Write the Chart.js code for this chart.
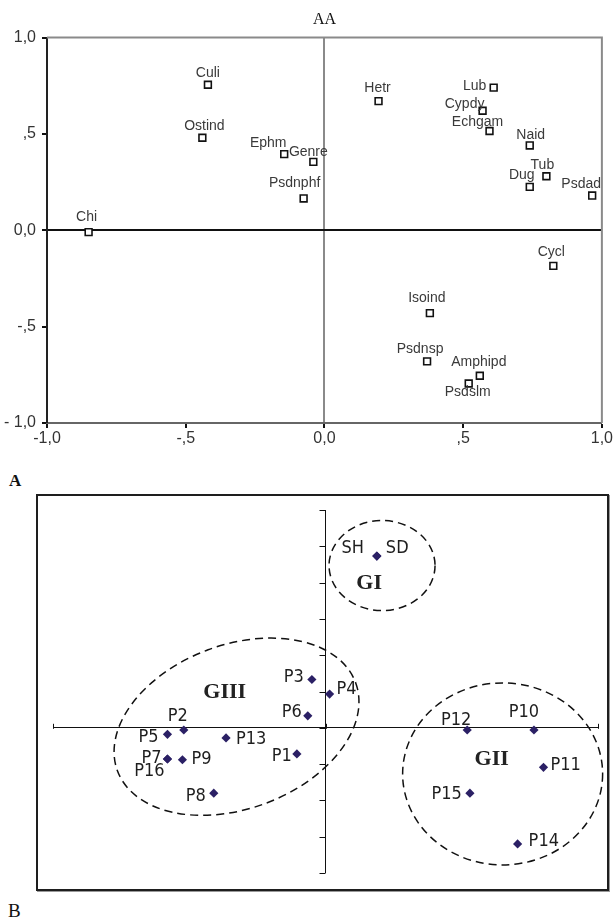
<!DOCTYPE html>
<html><head><meta charset="utf-8">
<script src="https://cdn.jsdelivr.net/npm/chart.js@4.4.1/dist/chart.umd.min.js"></script>
<style>
html,body{margin:0;padding:0;background:#fff;}
body{width:614px;height:924px;position:relative;overflow:hidden;}
#cA{position:absolute;left:0;top:0;}
#boxB{position:absolute;left:36px;top:494px;width:569px;height:393px;border:2px solid #1e1e1e;box-shadow:1px 1px 0 #999;}
#cB{position:absolute;left:0;top:0;}
.panel{position:absolute;font-family:'Liberation Serif','DejaVu Serif',serif;color:#111;line-height:1;}
</style></head><body>
<canvas id="cA" width="614" height="470"></canvas>
<div class="panel" style="left:9px;top:472px;font-size:17px;font-weight:bold;">A</div>
<div id="boxB"><canvas id="cB" width="569" height="393"></canvas></div>
<div class="panel" style="left:8px;top:901px;font-size:19px;">B</div>
<script>
// ---------- Panel A data ----------
const speciesNames = ['Culi','Ostind','Ephm','Genre','Psdnphf','Chi','Hetr','Lub','Cypdy','Echgam','Naid','Tub','Dug','Psdad','Cycl','Isoind','Psdnsp','Amphipd','Psdslm'];
const speciesX = [-0.42,-0.44,-0.145,-0.04,-0.075,-0.85,0.195,0.61,0.57,0.595,0.74,0.80,0.74,0.965,0.825,0.38,0.37,0.56,0.52];
const speciesY = [0.755,0.48,0.395,0.355,0.165,-0.01,0.67,0.74,0.62,0.515,0.44,0.28,0.225,0.18,-0.185,-0.43,-0.68,-0.755,-0.795];
const xTickLabelsA = ['-1,0','-,5','0,0',',5','1,0'];
const yTickLabelsA = ['- 1,0','-,5','0,0',',5','1,0'];
const titleA = 'AA';

// ---------- Panel B data ----------
const siteNames = ['P1','P2','P3','P4','P5','P6','P7','P8','P9','P10','P11','P12','P13','P14','P15','P16','SH','SD'];
const siteX = [-0.21,-1.04,-0.10,0.03,-1.16,-0.13,-1.16,-0.82,-1.05,1.53,1.60,1.04,-0.73,1.41,1.06,-1.16,0.377,0.377];
const siteY = [-0.72,-0.06,1.33,0.93,-0.18,0.33,-0.86,-1.80,-0.88,-0.06,-1.09,-0.06,-0.28,-3.20,-1.80,-0.86,4.73,4.73];
const groupNames = ['GI','GII','GIII'];
const groupCenterX = [0.415,1.30,-0.653];
const groupCenterY = [4.47,-1.27,0.03];
const groupLabelX = [0.32,1.22,-0.74];
const groupLabelY = [3.98,-0.88,0.99];

// ---------- styles (label placement, shapes) ----------
const speciesLabelOffset = [[0,-12],[2,-12],[-16,-11],[-5,-10],[-9,-15],[-2,-15],[-1,-13],[-19,-1],[-18,-7],[-12,-9],[1,-10],[-4,-11],[-8,-12],[-11,-11],[-2,-14],[-3,-15],[-7,-12],[-1,-14],[-1,9]];
const siteLabelPlace = [['right',-5,2],['center',-6,-14],['right',-8,-2],['left',7,-5],['right',-9,3],['right',-6,-3],['right',-6,-1],['right',-8,3],['left',9,0],['center',-10,-18],['left',7,-2],['center',-11,-10],['left',10,1],['left',11,-3],['right',-8,1],['center',-18,12],['right',-13,-8],['left',9,-8]];
const ellipseShape = [{rx:53,ry:45,rot:0},{rx:100,ry:91,rot:0},{rx:127,ry:82,rot:-20.3}];

// ---------- Panel A ----------
const frameA = {
  id:'frameA',
  beforeDatasetsDraw(chart){
    const {ctx, chartArea:a} = chart;
    ctx.save();
    ctx.strokeStyle='#8a8a8a'; ctx.lineWidth=2;
    ctx.beginPath(); ctx.moveTo(a.left,a.top); ctx.lineTo(a.right,a.top); ctx.lineTo(a.right,a.bottom); ctx.stroke();
    ctx.restore();
  },
  afterDatasetsDraw(chart){
    const meta = chart.getDatasetMeta(0);
    const ctx = chart.ctx;
    ctx.save();
    ctx.font = "14px 'Liberation Sans', Arial, sans-serif";
    ctx.fillStyle = '#3a3a3a';
    ctx.textAlign='center'; ctx.textBaseline='middle';
    meta.data.forEach((el,i)=>{
      const o = speciesLabelOffset[i];
      ctx.fillText(speciesNames[i], el.x+o[0], el.y+o[1]);
    });
    ctx.restore();
  }
};

new Chart(document.getElementById('cA'), {
  type:'scatter',
  data:{datasets:[{
    data: speciesX.map((x,i)=>({x:x,y:speciesY[i]})),
    pointStyle:'rect', pointRadius:4.8, borderColor:'#111', backgroundColor:'#fff', borderWidth:1.6
  }]},
  options:{
    responsive:false, animation:false, devicePixelRatio:1,
    layout:{padding:{left:0,right:6,top:0,bottom:17}},
    plugins:{
      legend:{display:false}, tooltip:{enabled:false},
      title:{display:true, text:titleA, fullSize:false, color:'#111',
        font:{family:"'Liberation Serif', serif", size:16, weight:'normal'}, padding:{top:10,bottom:8.3}}
    },
    scales:{
      x:{type:'linear', min:-1, max:1,
        afterFit(s){ s.height = 30; },
        ticks:{stepSize:0.5, autoSkip:false, maxRotation:0, padding:1, color:'#333',
          font:{family:"'Liberation Sans', Arial, sans-serif", size:16},
          callback:(v,i)=>xTickLabelsA[i]},
        grid:{drawOnChartArea:true, tickLength:5, tickWidth:2, tickColor:'#111',
          color:(c)=> (c.tick && c.tick.value===0) ? '#8a8a8a' : 'rgba(0,0,0,0)',
          lineWidth:(c)=> (c.tick && c.tick.value===0) ? 2 : 0},
        border:{display:true, color:'#666', width:2}
      },
      y:{type:'linear', min:-1, max:1,
        afterFit(s){ s.width = 47; },
        ticks:{stepSize:0.5, autoSkip:false, padding:6, color:'#333',
          font:{family:"'Liberation Sans', Arial, sans-serif", size:16},
          callback:(v,i)=>yTickLabelsA[i]},
        grid:{drawOnChartArea:true, tickLength:5, tickWidth:2, tickColor:'#111',
          color:(c)=> (c.tick && c.tick.value===0) ? '#111' : 'rgba(0,0,0,0)',
          lineWidth:(c)=> (c.tick && c.tick.value===0) ? 2 : 0},
        border:{display:true, color:'#222', width:2}
      }
    }
  },
  plugins:[frameA]
});

// ---------- Panel B ----------
const decoB = {
  id:'decoB',
  beforeDatasetsDraw(chart){
    const {ctx, scales:{x, y}} = chart;
    const x0 = x.getPixelForValue(0), y0 = y.getPixelForValue(0);
    ctx.save();
    ctx.strokeStyle='#111'; ctx.lineWidth=1;
    y.ticks.forEach(t=>{
      const py = Math.round(y.getPixelForValue(t.value))+0.5;
      ctx.beginPath(); ctx.moveTo(x0-6,py); ctx.lineTo(x0,py); ctx.stroke();
    });
    x.ticks.forEach(t=>{
      const px = Math.round(x.getPixelForValue(t.value))+0.5;
      ctx.beginPath(); ctx.moveTo(px,y0-4); ctx.lineTo(px,y0+1); ctx.stroke();
    });
    // group ellipses
    ctx.setLineDash([8,5]); ctx.lineWidth=1.5; ctx.strokeStyle='#111';
    groupNames.forEach((g,i)=>{
      const e = ellipseShape[i];
      ctx.beginPath();
      ctx.ellipse(x.getPixelForValue(groupCenterX[i]), y.getPixelForValue(groupCenterY[i]), e.rx, e.ry, e.rot*Math.PI/180, 0, Math.PI*2);
      ctx.stroke();
    });
    ctx.setLineDash([]);
    ctx.font = "bold 22px 'Liberation Serif', 'DejaVu Serif', serif";
    ctx.fillStyle='#222'; ctx.textAlign='center'; ctx.textBaseline='middle';
    groupNames.forEach((g,i)=>{
      ctx.fillText(g, x.getPixelForValue(groupLabelX[i]), y.getPixelForValue(groupLabelY[i]));
    });
    ctx.restore();
  },
  afterDatasetsDraw(chart){
    const meta = chart.getDatasetMeta(0);
    const ctx = chart.ctx;
    ctx.save();
    ctx.font = "18px 'DejaVu Sans Condensed', 'DejaVu Sans', sans-serif";
    ctx.fillStyle = '#1e1e1e';
    ctx.textBaseline='middle';
    meta.data.forEach((el,i)=>{
      const p = siteLabelPlace[i];
      ctx.textAlign = p[0];
      ctx.fillText(siteNames[i], el.x+p[1], el.y+p[2]);
    });
    ctx.restore();
  }
};

new Chart(document.getElementById('cB'), {
  type:'scatter',
  data:{datasets:[{
    data: siteX.map((x,i)=>({x:x,y:siteY[i]})),
    pointStyle:'rectRot', pointRadius:4.6, borderColor:'#2b2065', backgroundColor:'#2b2065', borderWidth:0
  }]},
  options:{
    responsive:false, animation:false, devicePixelRatio:1,
    layout:{padding:{left:15,right:9,top:14,bottom:16}},
    plugins:{legend:{display:false}, tooltip:{enabled:false}},
    scales:{
      x:{type:'linear', min:-2, max:2,
        afterFit(s){ s.height = 0; },
        ticks:{display:false, stepSize:2},
        grid:{drawTicks:false,
          color:(c)=> (c.tick && c.tick.value===0) ? '#111' : 'rgba(0,0,0,0)', lineWidth:1},
        border:{display:false}
      },
      y:{type:'linear', min:-4, max:6,
        afterFit(s){ s.width = 0; },
        ticks:{display:false, stepSize:1},
        grid:{drawTicks:false,
          color:(c)=> (c.tick && c.tick.value===0) ? '#111' : 'rgba(0,0,0,0)', lineWidth:1},
        border:{display:false}
      }
    }
  },
  plugins:[decoB]
});
</script>
</body></html>
